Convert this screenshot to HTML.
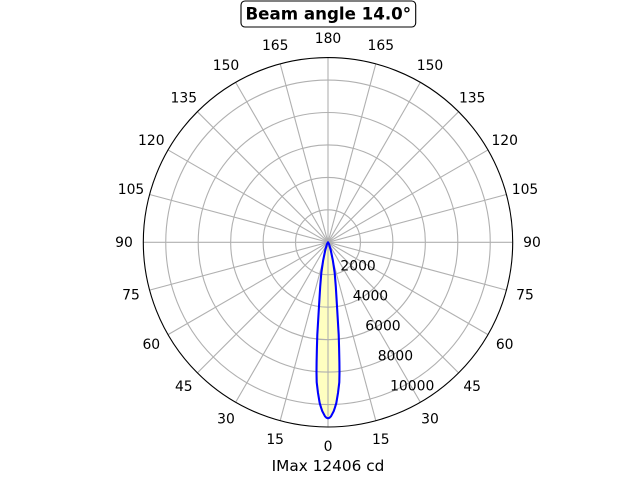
<!DOCTYPE html>
<html>
<head>
<meta charset="utf-8">
<style>
  html, body { margin: 0; padding: 0; background: #ffffff; }
  svg { display: block; }
  text { font-family: "DejaVu Sans", "Liberation Sans", sans-serif; fill: #000; }
</style>
</head>
<body>
<svg width="640" height="480" viewBox="0 0 640 480" xmlns="http://www.w3.org/2000/svg">
  <rect x="0" y="0" width="640" height="480" fill="#ffffff"/>

  <!-- beam fill (below grid) -->
  <g transform="translate(328,242.3)">
    <path fill="#ffffc0" stroke="none"
      d="M0,0 L-1,1.7 L-2.7,7.5 L-4.9,18.4 L-6.7,30.7 L-7.8,44.3 L-9,64 L-10.7,92.5 L-11.1,106 L-11.4,120 L-11.5,130 L-11.3,140 L-10,150.7 L-8.3,160.8 L-6.9,165.4 L-5.7,168.9 L-3,174 L-1.5,175.5 L0,176
         L1.5,175.5 L3,174 L5.7,168.9 L6.9,165.4 L8.3,160.8 L10,150.7 L11.3,140 L11.5,130 L11.4,120 L11.1,106 L10.7,92.5 L9,64 L7.8,44.3 L6.7,30.7 L4.9,18.4 L2.7,7.5 L1,1.7 Z"/>
  </g>

  <!-- grid -->
  <g transform="translate(328,242.3)" stroke="#b0b0b0" stroke-width="1.1" fill="none">
    <circle r="32.45"/>
    <circle r="64.9"/>
    <circle r="97.35"/>
    <circle r="129.8"/>
    <circle r="162.25"/>
    <line x1="0" y1="-184.7" x2="0" y2="184.7"/>
    <line x1="-184.7" y1="0" x2="184.7" y2="0"/>
    <line x1="-47.8" y1="-178.4" x2="47.8" y2="178.4"/>
    <line x1="47.8" y1="-178.4" x2="-47.8" y2="178.4"/>
    <line x1="-92.35" y1="-159.95" x2="92.35" y2="159.95"/>
    <line x1="92.35" y1="-159.95" x2="-92.35" y2="159.95"/>
    <line x1="-130.6" y1="-130.6" x2="130.6" y2="130.6"/>
    <line x1="130.6" y1="-130.6" x2="-130.6" y2="130.6"/>
    <line x1="-159.95" y1="-92.35" x2="159.95" y2="92.35"/>
    <line x1="159.95" y1="-92.35" x2="-159.95" y2="92.35"/>
    <line x1="-178.4" y1="-47.8" x2="178.4" y2="47.8"/>
    <line x1="178.4" y1="-47.8" x2="-178.4" y2="47.8"/>
  </g>

  <!-- beam outline -->
  <g transform="translate(328,242.3)">
    <path fill="none" stroke="#0000ff" stroke-width="2.08" stroke-linejoin="round"
      d="M0,0 L-1,1.7 L-2.7,7.5 L-4.9,18.4 L-6.7,30.7 L-7.8,44.3 L-9,64 L-10.7,92.5 L-11.1,106 L-11.4,120 L-11.5,130 L-11.3,140 L-10,150.7 L-8.3,160.8 L-6.9,165.4 L-5.7,168.9 L-3,174 L-1.5,175.5 L0,176
         L1.5,175.5 L3,174 L5.7,168.9 L6.9,165.4 L8.3,160.8 L10,150.7 L11.3,140 L11.5,130 L11.4,120 L11.1,106 L10.7,92.5 L9,64 L7.8,44.3 L6.7,30.7 L4.9,18.4 L2.7,7.5 L1,1.7 Z"/>
  </g>

  <!-- outer frame -->
  <circle cx="328" cy="242.3" r="184.7" fill="none" stroke="#000" stroke-width="1.1"/>

  <!-- angular tick labels -->
  <g font-size="13.9" text-anchor="middle">
    <text x="328" y="450.9">0</text>
    <text x="275.2" y="443.9">15</text>
    <text x="380.8" y="443.9">15</text>
    <text x="226" y="423.6">30</text>
    <text x="430" y="423.6">30</text>
    <text x="183.8" y="391.1">45</text>
    <text x="472.2" y="391.1">45</text>
    <text x="151.3" y="348.9">60</text>
    <text x="504.7" y="348.9">60</text>
    <text x="131" y="299.7">75</text>
    <text x="525" y="299.7">75</text>
    <text x="124" y="246.9">90</text>
    <text x="532" y="246.9">90</text>
    <text x="131" y="194.1">105</text>
    <text x="525" y="194.1">105</text>
    <text x="151.3" y="144.9">120</text>
    <text x="504.7" y="144.9">120</text>
    <text x="183.8" y="102.7">135</text>
    <text x="472.2" y="102.7">135</text>
    <text x="226" y="70.2">150</text>
    <text x="430" y="70.2">150</text>
    <text x="275.2" y="49.9">165</text>
    <text x="380.8" y="49.9">165</text>
    <text x="328" y="42.9">180</text>
  </g>

  <!-- radial tick labels -->
  <g font-size="13.9" text-anchor="start">
    <text x="340.4" y="270.4">2000</text>
    <text x="352.8" y="300.4">4000</text>
    <text x="365.3" y="330.4">6000</text>
    <text x="377.7" y="360.4">8000</text>
    <text x="390.1" y="390.4">10000</text>
  </g>

  <!-- title -->
  <rect x="241" y="1" width="174.7" height="26" rx="4" ry="4" fill="#ffffff" stroke="#000" stroke-width="1.1"/>
  <text x="328.3" y="19.7" font-size="16.67" font-weight="bold" text-anchor="middle">Beam angle 14.0°</text>

  <!-- xlabel -->
  <text x="328" y="471" font-size="15.3" text-anchor="middle">IMax 12406 cd</text>
</svg>
</body>
</html>
